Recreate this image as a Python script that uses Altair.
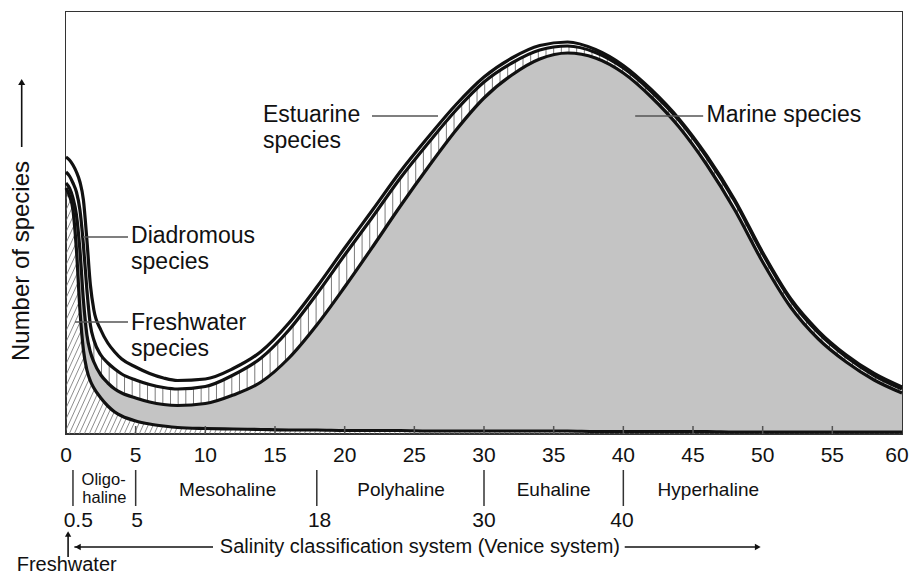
import altair as alt
import numpy as np
import pandas as pd

# ---------------- data ----------------
SALINITY = [0, 0.25, 0.5, 0.75, 1, 1.25, 1.5, 1.75, 2, 2.5, 3, 3.5, 4, 5, 6, 7, 8,
            10, 12, 14, 16, 18, 20, 22, 24, 26, 28, 30, 32, 34, 36, 38, 40,
            42, 44, 46, 48, 50, 52, 54, 56, 58, 60]
FRESHWATER = [246, 238, 224, 184, 124, 84, 64, 53, 46, 36, 28, 22, 18, 13, 10, 8, 6.5,
              5.5, 5, 4.5, 4, 4, 3.5, 3.5, 3.5, 3, 3, 3, 3, 3, 3, 2.5, 2.5,
              2.5, 2.5, 2.5, 2, 2, 2, 2, 2, 2, 2]
MARINE = [5, 8, 12, 35, 60, 50, 35, 29, 26, 23, 23, 23, 23, 23, 22, 21.5, 22,
          25, 34, 47.5, 72, 105, 143.5, 183.5, 224.5, 264, 301, 333, 356, 372, 378, 373.5, 358.5,
          334.5, 304.5, 266.5, 222, 170, 125, 93, 70, 52, 39]
ESTUARINE = [11, 12, 15, 23, 40, 55, 45, 27, 22, 20, 20, 20, 19, 18, 17.5, 17, 16.5,
             17, 20, 24, 28, 31, 32, 30, 28, 24, 20, 16, 12, 9, 7, 5.5, 5,
             5.5, 6.5, 7.5, 8.5, 8, 7, 6, 5, 4.5, 4]
DIADROMOUS = [15, 16, 18, 20, 28, 45, 50, 40, 30, 25, 20, 17, 15, 13, 11, 9.5, 8.5,
              7.5, 6.5, 6.5, 7, 7, 7, 7, 6.5, 6, 5.5, 5, 5, 4.5, 4, 3, 2.5,
              2, 1.5, 1.5, 1.5, 1.5, 1.5, 2, 2, 2, 2]

X_TICKS = [0, 5, 10, 15, 20, 25, 30, 35, 40, 45, 50, 55, 60]
ZONE_BOUNDS = [0.5, 5, 18, 30, 40]
ZONE_BOUND_LABELS = ["0.5", "5", "18", "30", "40"]
ZONE_NAMES = ["Mesohaline", "Polyhaline", "Euhaline", "Hyperhaline"]
OLIGO = ["Oligo-", "haline"]
GROUP_LINES = ["Diadromous", "species", "Freshwater", "species", "Estuarine", "species", "Marine species"]
Y_TITLE = "Number of species"
VENICE_TITLE = "Salinity classification system (Venice system)"
FRESH_NOTE = "Freshwater"

# ---------------- layout ----------------
W, H = 836, 422
YMAX = 422
PX = W / 60.0
FONT = "Liberation Sans"
INK = "#111111"

df = pd.DataFrame({"s": SALINITY, "fw": FRESHWATER, "ma": MARINE,
                   "es": ESTUARINE, "di": DIADROMOUS})
df["c1"] = df["fw"]
df["c2"] = df["c1"] + df["ma"]
df["c3"] = df["c2"] + df["es"]
df["c4"] = df["c3"] + df["di"]

xs = alt.Scale(domain=[0, 60], nice=False, zero=False)
ys = alt.Scale(domain=[0, YMAX], nice=False, zero=False)


def ex(f):
    return alt.X(f, type="quantitative", scale=xs, axis=None)


def ey(f):
    return alt.Y(f, type="quantitative", scale=ys, axis=None, stack=None)


# diagonal hatching (freshwater texture), later covered above the freshwater curve
dx_full = (YMAX / 2.2) / PX
starts = np.arange(-dx_full, 60, 5.0 / PX)
diag_df = pd.DataFrame({"x0": starts, "x1": starts + dx_full, "y0": 0.0, "y1": float(YMAX)})
diag = alt.Chart(diag_df).mark_rule(clip=True, color="#707070", strokeWidth=0.8).encode(
    x=ex("x0"), x2=alt.X2("x1"), y=ey("y0"), y2=alt.Y2("y1"))

white_above_fw = alt.Chart(df).mark_area(color="white", interpolate="monotone").encode(
    x=ex("s"), y=ey("c1"), y2=alt.value(0))

# vertical hatching (estuarine texture)
xh = np.arange(2.0, 59.9, 0.55)
lo = np.interp(xh, df["s"], df["c2"]) - 3
hi = np.interp(xh, df["s"], df["c3"]) + 3
hdf = pd.DataFrame({"x": xh, "lo": lo, "hi": hi})
hdf = hdf[hdf["hi"] - hdf["lo"] > 8]
est_hatch = alt.Chart(hdf).mark_rule(color="#7a7a7a", strokeWidth=1).encode(
    x=ex("x"), y=ey("lo"), y2=alt.Y2("hi"))

grey = alt.Chart(df).mark_area(color="#c4c4c4", interpolate="monotone").encode(
    x=ex("s"), y=ey("c2"), y2=alt.Y2("c1"))

white_top = alt.Chart(df).mark_area(color="white", interpolate="monotone").encode(
    x=ex("s"), y=ey("c3"), y2=alt.value(0))

long = df.melt(id_vars=["s"], value_vars=["c1", "c2", "c3", "c4"], var_name="k", value_name="v")
lines = alt.Chart(long).mark_line(color=INK, strokeWidth=3.2, interpolate="monotone").encode(
    x=ex("s"), y=ey("v"), detail="k:N")

# inner ticks
tick_df = pd.DataFrame({"x": X_TICKS[1:-1], "y0": 0.0, "y1": 8.0})
ticks = alt.Chart(tick_df).mark_rule(color="#555", strokeWidth=1.5).encode(
    x=ex("x"), y=ey("y0"), y2=alt.Y2("y1"))

# leaders
lead_df = pd.DataFrame({"x0": [1.22, 0.65, 21.96, 40.85],
                        "x1": [4.45, 4.45, 26.7, 45.73],
                        "y": [197, 112, 318, 318]})
leaders = alt.Chart(lead_df).mark_rule(color="#555", strokeWidth=1.5).encode(
    x=ex("x0"), x2=alt.X2("x1"), y=ey("y"))

lab_df = pd.DataFrame({"t": GROUP_LINES,
                       "x": [4.67, 4.67, 4.67, 4.67, 14.14, 14.14, 45.97],
                       "y": [191, 165, 104, 78, 312, 286, 312]})
labels = alt.Chart(lab_df).mark_text(font=FONT, fontSize=23, align="left", baseline="alphabetic",
                                     color=INK).encode(x=ex("x"), y=ey("y"), text="t:N")

# y-axis title and arrow
yt_df = pd.DataFrame({"t": [Y_TITLE], "x": [-2.66], "y": [173]})
ytitle = alt.Chart(yt_df).mark_text(font=FONT, fontSize=24, angle=270, align="center",
                                    baseline="alphabetic", color=INK).encode(
    x=ex("x"), y=ey("y"), text="t:N")
ya_df = pd.DataFrame({"x": [-3.18], "y0": [287], "y1": [350]})
yarrow = alt.Chart(ya_df).mark_rule(color=INK, strokeWidth=1.6).encode(
    x=ex("x"), y=ey("y0"), y2=alt.Y2("y1"))
yhead = alt.Chart(pd.DataFrame({"x": [-3.18], "y": [352]})).mark_point(
    shape="triangle-up", filled=True, size=50, color=INK, opacity=1).encode(x=ex("x"), y=ey("y"))

# x tick labels (the last one nudged inward so it stays on the page)
xl_df = pd.DataFrame({"t": [str(v) for v in X_TICKS], "x": X_TICKS, "y": -28.0})
xlabels = alt.Chart(xl_df[xl_df["x"] < 60]).mark_text(
    font=FONT, fontSize=21, align="center", baseline="alphabetic", color=INK).encode(
    x=ex("x"), y=ey("y"), text="t:N")
xlabel_last = alt.Chart(xl_df[xl_df["x"] == 60]).mark_text(
    font=FONT, fontSize=21, align="center", baseline="alphabetic", color=INK, dx=-5).encode(
    x=ex("x"), y=ey("y"), text="t:N")

# Venice system
zb_df = pd.DataFrame({"x": ZONE_BOUNDS, "y0": -36.0, "y1": -72.0})
zbounds = alt.Chart(zb_df).mark_rule(color="#333", strokeWidth=1.5).encode(
    x=ex("x"), y=ey("y0"), y2=alt.Y2("y1"))
zn_df = pd.DataFrame({"t": ZONE_NAMES, "x": [11.6, 24.05, 35.0, 46.1], "y": -62.0})
znames = alt.Chart(zn_df).mark_text(font=FONT, fontSize=19, align="center", baseline="alphabetic",
                                    color=INK).encode(x=ex("x"), y=ey("y"), text="t:N")
ol_df = pd.DataFrame({"t": OLIGO, "x": [2.7, 2.75], "y": [-50.5, -69.0]})
oligo = alt.Chart(ol_df).mark_text(font=FONT, fontSize=16.5, align="center", baseline="alphabetic",
                                   color=INK).encode(x=ex("x"), y=ey("y"), text="t:N")
zl_df = pd.DataFrame({"t": ZONE_BOUND_LABELS, "x": [0.88, 5.1, 18.2, 30.0, 39.9], "y": -93.0})
zlabels = alt.Chart(zl_df).mark_text(font=FONT, fontSize=21, align="center", baseline="alphabetic",
                                     color=INK).encode(x=ex("x"), y=ey("y"), text="t:N")

vt_df = pd.DataFrame({"t": [VENICE_TITLE], "x": [25.4], "y": [-119.0]})
vtitle = alt.Chart(vt_df).mark_text(font=FONT, fontSize=20, align="center", baseline="alphabetic",
                                    color=INK).encode(x=ex("x"), y=ey("y"), text="t:N")
va_df = pd.DataFrame({"x0": [0.6, 40.1], "x1": [10.55, 49.7], "y": [-113.0, -113.0]})
varrows = alt.Chart(va_df).mark_rule(color=INK, strokeWidth=1.6).encode(
    x=ex("x0"), x2=alt.X2("x1"), y=ey("y"))
vl_head = alt.Chart(pd.DataFrame({"x": [0.85], "y": [-113.0]})).mark_point(
    shape="triangle-left", filled=True, size=45, color=INK, opacity=1).encode(x=ex("x"), y=ey("y"))
vr_head = alt.Chart(pd.DataFrame({"x": [49.65], "y": [-113.0]})).mark_point(
    shape="triangle-right", filled=True, size=45, color=INK, opacity=1).encode(x=ex("x"), y=ey("y"))

fa_df = pd.DataFrame({"x": [0.15], "y0": [-123.0], "y1": [-101.0]})
farrow = alt.Chart(fa_df).mark_rule(color=INK, strokeWidth=1.6).encode(
    x=ex("x"), y=ey("y0"), y2=alt.Y2("y1"))
fhead = alt.Chart(pd.DataFrame({"x": [0.15], "y": [-100.0]})).mark_point(
    shape="triangle-up", filled=True, size=40, color=INK, opacity=1).encode(x=ex("x"), y=ey("y"))
fn_df = pd.DataFrame({"t": [FRESH_NOTE], "x": [0.05], "y": [-137.0]})
fnote = alt.Chart(fn_df).mark_text(font=FONT, fontSize=20, align="center", baseline="alphabetic",
                                   color=INK).encode(x=ex("x"), y=ey("y"), text="t:N")

chart = alt.layer(
    diag, white_above_fw, est_hatch, grey, white_top, lines, ticks,
    leaders, labels, ytitle, yarrow, yhead, xlabels, xlabel_last, zbounds, znames, oligo, zlabels,
    vtitle, varrows, vl_head, vr_head, farrow, fhead, fnote
).properties(
    width=W, height=H,
    padding={"left": 58, "top": 4, "right": 7, "bottom": 145},
    autosize=alt.AutoSizeParams(type="none"),
).configure_view(stroke="#333", strokeWidth=2)

chart.save("out.html", embed_options={"renderer": "svg", "actions": False})
